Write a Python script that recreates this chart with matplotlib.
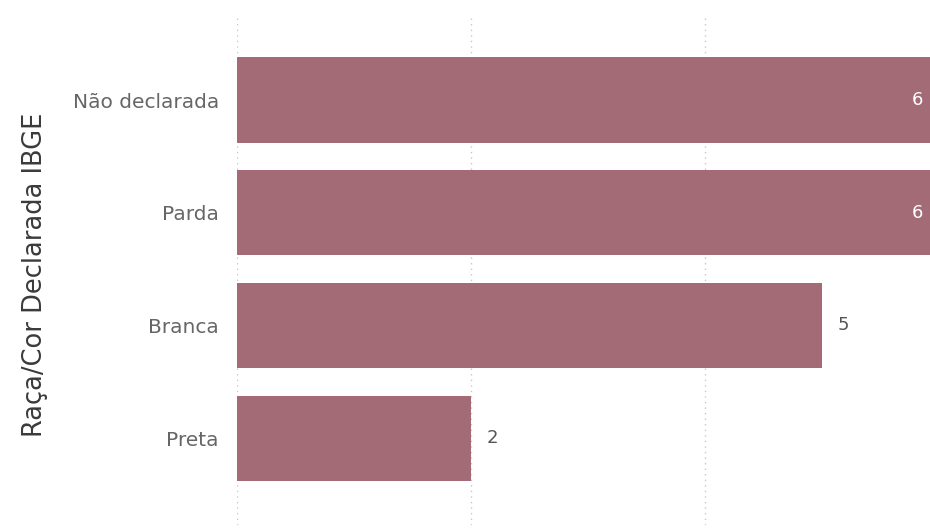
import matplotlib.pyplot as plt

categorias = ["Não declarada", "Parda", "Branca", "Preta"]
valores = [6, 6, 5, 2]
grade = [0, 2, 4]

cor_barra = "#a36b76"
fonte = "DejaVu Sans"

fig = plt.figure(figsize=(9.3, 5.32), dpi=100)
ax = fig.add_axes([237 / 930, 7 / 532, 693 / 930, 510 / 532])

pos = list(range(len(categorias)))
ax.barh(pos, valores, height=0.755, color=cor_barra, zorder=2)
ax.set_ylim(3.77, -0.754)
ax.set_xlim(0, 5.92)

for g in grade:
    ax.axvline(g, color="#c8c8c8", linestyle=(0, (1, 3)), linewidth=1, zorder=1)

xmax = ax.get_xlim()[1]
for p, v in zip(pos, valores):
    if v >= xmax:
        ax.annotate(str(v), xy=(1, p), xycoords=("axes fraction", "data"),
                    xytext=(-5, 0), textcoords="offset points",
                    ha="right", va="center", color="white", fontsize=13,
                    family=fonte)
    else:
        ax.annotate(str(v), xy=(v, p), xytext=(11, 0), textcoords="offset points",
                    ha="left", va="center", color="#555555", fontsize=13,
                    family=fonte)

ax.set_yticks(pos)
ax.set_yticklabels(categorias, family=fonte, fontsize=14.5, color="#666666")
ax.tick_params(axis="y", length=0, pad=13)
ax.set_xticks([])
for s in ax.spines.values():
    s.set_visible(False)

# rótulo do eixo, centrado em y=275 px a partir do topo
fig.text(35 / 930, 1 - 275 / 532, "Raça/Cor Declarada IBGE", rotation=90,
         ha="center", va="center", family=fonte, fontsize=18.5, color="#3a3a3a")

fig.savefig("out.png", dpi=100)
